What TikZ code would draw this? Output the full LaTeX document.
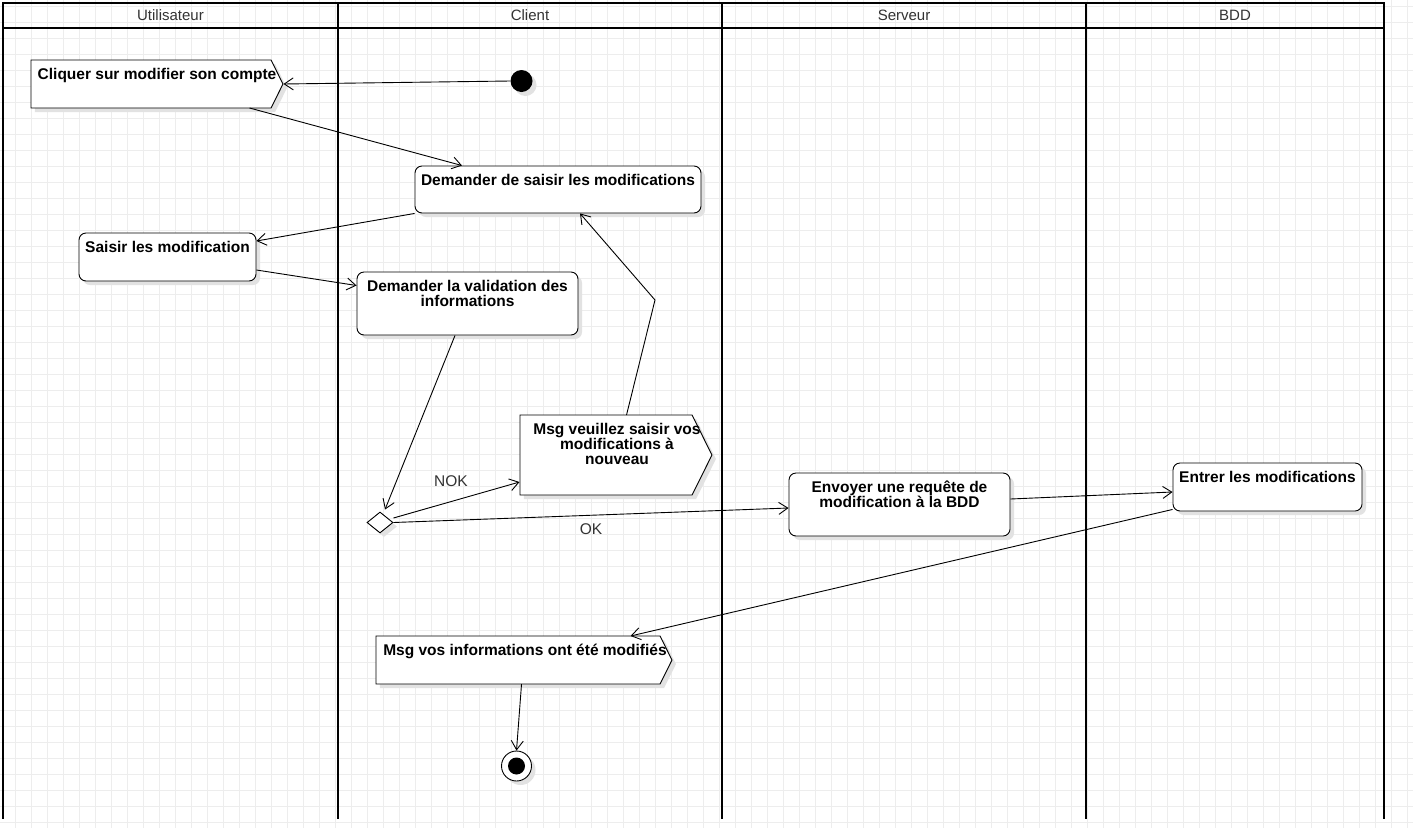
\documentclass[tikz,border=0pt]{standalone}
\usepackage{fontspec}
\setmainfont{Liberation Sans}
\usetikzlibrary{arrows.meta,shapes.geometric,shapes.symbols,shadows}
\definecolor{gridc}{HTML}{EDEDED}
\definecolor{shadc}{HTML}{E2E2E2}
\definecolor{hdrc}{HTML}{333333}
\newcommand\firststrut{\rule{0pt}{14pt}}
\begin{document}
\begin{tikzpicture}[x=1pt,y=-1pt,
  gridl/.style={draw=gridc,line width=0.8pt},
  lane/.style={draw=black,line width=2.6pt,line cap=rect},
  hdr/.style={font=\fontsize{15}{18}\selectfont,text=hdrc,inner sep=0pt},
  shd/.style={drop shadow={shadow xshift=4pt,shadow yshift=-4pt,fill=shadc,opacity=1}},
  txt/.style={font=\fontsize{15.5}{15}\selectfont\bfseries,align=center,inner sep=0pt,anchor=north,yshift=-6pt},
  act/.style={draw,line width=0.9pt,rounded corners=7pt,fill=white,shd,inner sep=0pt},
  send/.style={signal,signal to=east,signal from=nowhere,signal pointer angle=127,draw,line width=0.9pt,fill=white,shd,inner sep=0pt},
  flow/.style={draw,line width=0.9pt,-{Straight Barb[length=9pt,width=12pt]}},
  glabel/.style={font=\fontsize{15.5}{18}\selectfont,text=hdrc,inner sep=0pt},
]
\useasboundingbox (0,0) rectangle (1413,828);
\fill[white] (0,0) rectangle (1413,828);
% grid
\foreach \x in {15.5,31.5,...,1412} \draw[gridl] (\x,0) -- (\x,828);
\foreach \y in {6.5,22.5,...,827} \draw[gridl] (0,\y) -- (1413,\y);
% swimlanes
\draw[lane] (3,3) -- (1384,3);
\draw[lane] (3,28) -- (1384,28);
\foreach \x in {3,338,722,1086,1384} \draw[lane] (\x,3) -- (\x,818);
\node[hdr] (hU) at (170.5,15.5) {Utilisateur};
\node[hdr] (hC) at (530,15.5) {Client};
\node[hdr] (hS) at (904,15.5) {Serveur};
\node[hdr] (hB) at (1235,15.5) {BDD};
% nodes
\node[circle,fill=black,minimum size=22pt,inner sep=0pt,shd] (ini) at (521.5,81) {};
\node[send,minimum width=252pt,minimum height=48pt,
  label={[txt,xshift=6pt]north:{\firststrut Cliquer sur modifier son compte}}] (cl) at (151,84) {};
\node[act,minimum width=286pt,minimum height=47pt,
  label={[txt]north:{\firststrut Demander de saisir les modifications}}] (dsm) at (558,189.5) {};
\node[act,minimum width=177pt,minimum height=48pt,
  label={[txt]north:{\firststrut Saisir les modification}}] (sai) at (167.5,257) {};
\node[act,minimum width=221pt,minimum height=63pt,
  label={[txt]north:{\firststrut Demander la validation des\\informations}}] (dval) at (467.5,303.5) {};
\node[diamond,draw,line width=0.9pt,fill=white,minimum width=26pt,minimum height=21pt,inner sep=0pt,shd] (dia) at (380,522.5) {};
\node[send,minimum width=192pt,minimum height=80pt,
  label={[txt,xshift=11pt]north:{\firststrut Msg veuillez saisir vos\\modifications à\\nouveau}}] (mv) at (606,455) {};
\node[act,minimum width=221pt,minimum height=63pt,
  label={[txt]north:{\firststrut Envoyer une requête de\\modification à la BDD}}] (env) at (899.5,504.5) {};
\node[act,minimum width=189pt,minimum height=48pt,
  label={[txt]north:{\firststrut Entrer les modifications}}] (ent) at (1267.5,487) {};
\node[send,minimum width=296pt,minimum height=48pt,
  label={[txt,xshift=7pt]north:{\firststrut Msg vos informations ont été modifiés}}] (mvos) at (518,660) {};
\node[circle,draw,line width=0.9pt,fill=white,minimum size=30pt,inner sep=0pt,shd,
  path picture={\fill[black] (path picture bounding box.center) circle[radius=8.5pt];}] (fin) at (516.5,766) {};
\node[glabel] (nok) at (451,481) {NOK};
\node[glabel] (ok) at (591,529) {OK};
\coordinate (wp) at (655,300);
% connectors
\draw[flow] (ini.west) -- (cl.east);
\draw[flow] ([xshift=219pt,yshift=-24pt]cl.west) -- ([xshift=-96pt]dsm.north);
\draw[flow] (dsm.south west) -- ([yshift=16pt]sai.east);
\draw[flow] ([yshift=-13pt]sai.east) -- ([yshift=18pt]dval.west);
\draw[flow] ([xshift=-12.5pt]dval.south) -- ([xshift=5pt,yshift=2pt]dia.north);
\draw[flow] ([yshift=4.5pt]dia.east) -- ([yshift=-27pt]mv.west);
\draw[flow] (dia.east) -- ([yshift=-3.5pt]env.west);
\draw[flow] ([xshift=107pt,yshift=40pt]mv.west) -- (wp) -- ([xshift=22pt]dsm.south);
\draw[flow] ([yshift=5.5pt]env.east) -- ([yshift=-5pt]ent.west);
\draw[flow] ([yshift=2pt]ent.south west) -- ([xshift=255pt,yshift=24pt]mvos.west);
\draw[flow] ([xshift=146pt,yshift=-24pt]mvos.west) -- (fin.north);
\end{tikzpicture}
\end{document}
